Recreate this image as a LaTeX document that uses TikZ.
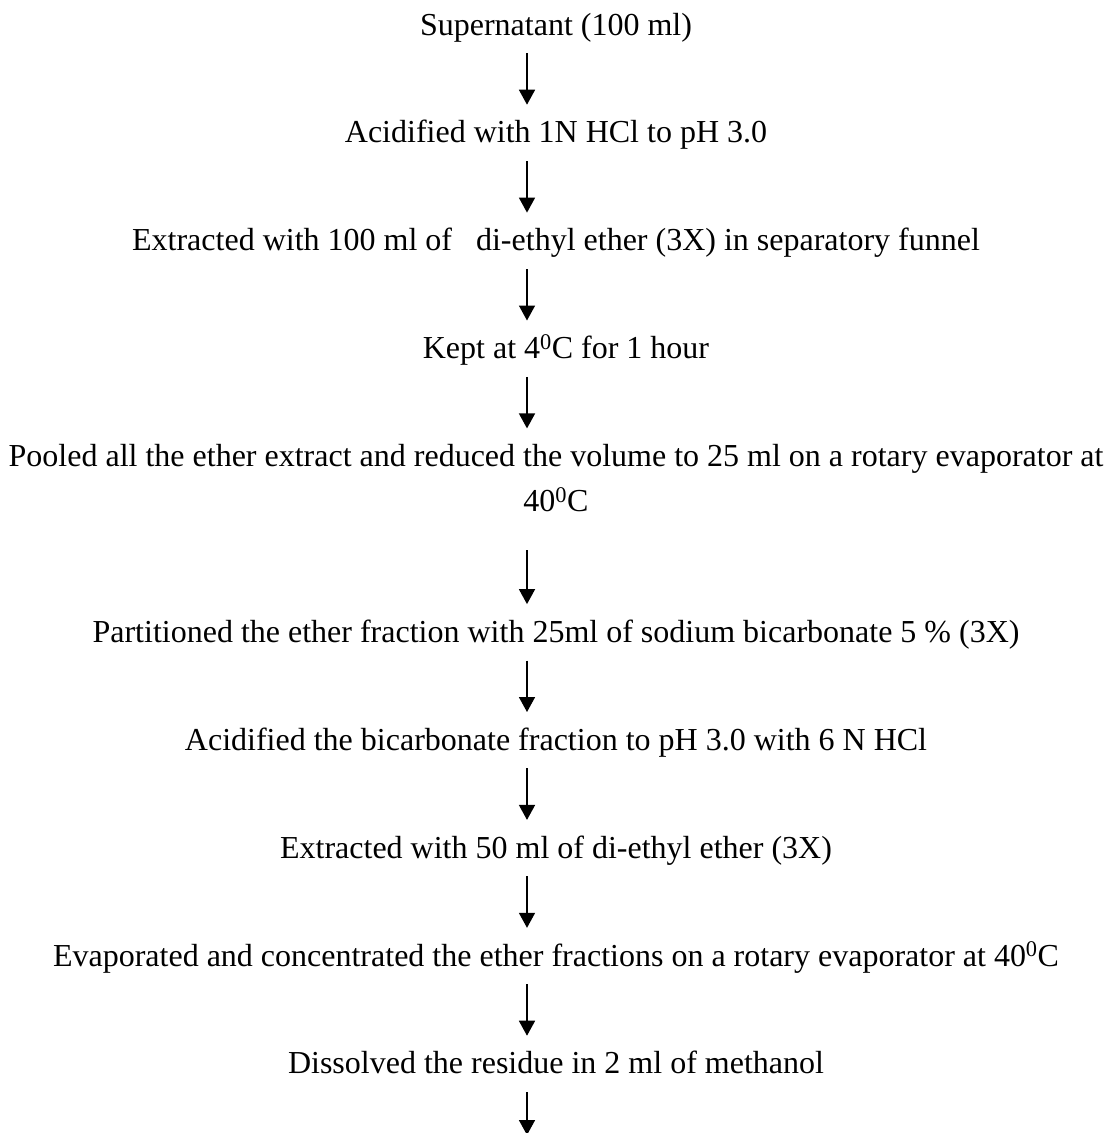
\documentclass[tikz,border=0pt]{standalone}
\usepackage{fontspec}
\setmainfont{Liberation Serif}
\usetikzlibrary{positioning,arrows.meta}

\begin{document}
\begin{tikzpicture}[
  x=1pt, y=1pt,
  node distance=78.5pt,
  stage/.style={inner sep=0pt, align=center, text height=22pt, text depth=7pt,
    font=\fontsize{32pt}{45pt}\selectfont},
  longstage/.style={inner sep=0pt, align=center, text height=67pt,
    font=\fontsize{32pt}{45pt}\selectfont},
  arrow/.style={-{Triangle[length=15pt, width=16pt]}, line width=1.6pt,
    shorten <=11pt, shorten >=16pt}
]
\useasboundingbox (0,0) rectangle (1108,-1133);
\coordinate (axis) at (527,0);
\node[stage, anchor=base] (super) at (556,-35) {Supernatant (100 ml)};
\node[stage, below=of super] (acid) {Acidified with 1N HCl to pH 3.0};
\node[stage, below=of acid] (ext) {Extracted with 100 ml of\ \ \ di-ethyl ether (3X) in separatory funnel};
\node[stage, below=of ext, xshift=10pt] (kept) {Kept at 4\textsuperscript{0}C for 1 hour};
\node[longstage, below=of kept, xshift=-10pt] (pool) {Pooled all the ether extract and reduced the volume to 25 ml on a rotary evaporator at\\40\textsuperscript{0}C};
\node[stage, below=108pt of pool] (part) {Partitioned the ether fraction with 25ml of sodium bicarbonate 5 \% (3X)};
\node[stage, below=of part] (bicarb) {Acidified the bicarbonate fraction to pH 3.0 with 6 N HCl};
\node[stage, below=of bicarb] (ext2) {Extracted with 50 ml of di-ethyl ether (3X)};
\node[stage, below=of ext2] (evap) {Evaporated and concentrated the ether fractions on a rotary evaporator at 40\textsuperscript{0}C};
\node[stage, below=of evap] (diss) {Dissolved the residue in 2 ml of methanol};
\coordinate (last) at (527,-1135);
\draw[arrow] (super.south -| axis) -- (acid.north -| axis);
\draw[arrow] (acid.south -| axis) -- (ext.north -| axis);
\draw[arrow] (ext.south -| axis) -- (kept.north -| axis);
\draw[arrow] (kept.south -| axis) -- (pool.north -| axis);
\draw[arrow, shorten <=38pt] (pool.south -| axis) -- (part.north -| axis);
\draw[arrow] (part.south -| axis) -- (bicarb.north -| axis);
\draw[arrow] (bicarb.south -| axis) -- (ext2.north -| axis);
\draw[arrow] (ext2.south -| axis) -- (evap.north -| axis);
\draw[arrow] (evap.south -| axis) -- (diss.north -| axis);
\draw[arrow, shorten >=0pt] (diss.south -| axis) -- (last);
\end{tikzpicture}
\end{document}
